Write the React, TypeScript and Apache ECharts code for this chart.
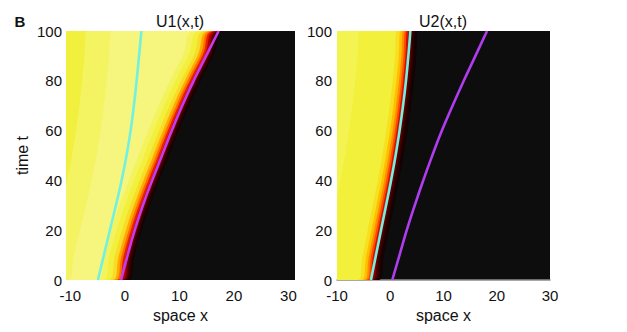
import React, { useEffect, useRef } from "react";
import * as echarts from "echarts";

// time samples (t) and front positions x(t)
const tVals = [0, 10, 20, 30, 40, 50, 60, 70, 80, 90, 100];
const u1Magenta = [-0.7, 0.5, 1.8, 3.3, 5.0, 6.8, 8.6, 10.5, 12.6, 14.9, 17.2];
const u1Cyan = [-4.95, -3.85, -2.75, -1.65, -0.6, 0.3, 1.05, 1.65, 2.15, 2.6, 3.03];
const u2Cyan = [-3.62, -2.68, -1.74, -0.78, 0.15, 1.0, 1.75, 2.4, 2.95, 3.4, 3.77];
const u2Magenta = [0.38, 1.74, 3.1, 4.6, 6.2, 7.9, 9.7, 11.7, 13.8, 16.0, 18.17];

const xTicks = [-10, 0, 10, 20, 30];
const tTicks = [0, 20, 40, 60, 80, 100];

// colour bands: offset (in x units) from a reference curve, colour of the level
const u1FrontOffsets = [1.3, 0.9, 0.5, 0.15, -0.3, -0.7, -1.1, -1.6, -2.3, -3.3, -4.3];
const u1FrontColors = ["#180202", "#360000", "#6a0000", "#b00000", "#e82000", "#ff6a00", "#ffaa00", "#f8dc28", "#f2f03c", "#f4f35e", "#f6f57e"];
const u1CyanOffsets = [-5.5, -10.0];
const u1CyanColors = ["#f4f362", "#f1f03e"];

const u2FrontOffsets = [1.5, 1.0, 0.6, 0.25, -0.2, -0.55, -0.9, -1.3, -1.8, -2.5, -9.5];
const u2FrontColors = ["#150202", "#2e0000", "#560000", "#900000", "#d81000", "#ff4a00", "#ff8c00", "#ffbe00", "#f7e020", "#f2f03a", "#f3f352"];

const BG = "#0d0d0d";
const FONT = "Liberation Sans, Arial, sans-serif";

function bandSeries(curve: number[], offsets: number[], colors: string[], idx: number, xmin: number, xmax: number) {
  return offsets.map((off, k) => ({
    type: "line",
    xAxisIndex: idx,
    yAxisIndex: idx,
    silent: true,
    symbol: "none",
    smooth: 0.5,
    lineStyle: { width: 0, opacity: 0 },
    areaStyle: { color: colors[k], opacity: 1, origin: "end" },
    data: [[xmin - 2, tVals[0]], ...curve.map((x, i) => [x + off, tVals[i]]), [xmax + 2, tVals[tVals.length - 1]]],
    z: 2,
  }));
}

function lineSeries(curve: number[], color: string, idx: number) {
  return {
    type: "line",
    xAxisIndex: idx,
    yAxisIndex: idx,
    silent: true,
    symbol: "none",
    smooth: 0.5,
    lineStyle: { width: 2.6, color },
    data: curve.map((x, i) => [x, tVals[i]]),
    z: 5,
  };
}

const tickFmt = (v: number) => (xTicks.some((t) => Math.abs(t - v) < 1e-6) ? String(v) : "");
const tFmt = (v: number) => (tTicks.some((t) => Math.abs(t - v) < 1e-6) ? String(v) : "");

export default function App() {
  const ref = useRef<HTMLDivElement>(null);
  useEffect(() => {
    if (!ref.current) return;
    const chart = echarts.init(ref.current, undefined, { renderer: "svg" });
    const L = { xmin: -10.8, xmax: 31.2 };
    const R = { xmin: -10, xmax: 30 };
    const axisLabel = { fontSize: 15, color: "#111", fontFamily: FONT };
    const nameStyle = { fontSize: 16, color: "#111", fontFamily: FONT };
    chart.setOption({
      animation: false,
      textStyle: { fontFamily: FONT },
      grid: [
        { left: 66, top: 31, width: 229, height: 249, show: true, backgroundColor: BG, borderWidth: 0 },
        { left: 337, top: 31, width: 213, height: 249, show: true, backgroundColor: BG, borderWidth: 0 },
      ],
      xAxis: [
        {
          type: "value", gridIndex: 0, min: L.xmin, max: L.xmax,
          axisLine: { show: false }, axisTick: { show: false }, splitLine: { show: false },
          axisLabel: { ...axisLabel, margin: 8, formatter: tickFmt },
          name: "space x", nameLocation: "middle", nameGap: 20, nameTextStyle: nameStyle,
        },
        {
          type: "value", gridIndex: 1, min: R.xmin, max: R.xmax, interval: 10,
          axisLine: { show: true, lineStyle: { color: "#8c8c8c", width: 1.5 } }, axisTick: { show: false }, splitLine: { show: false },
          axisLabel: { ...axisLabel, margin: 8, formatter: tickFmt },
          name: "space x", nameLocation: "middle", nameGap: 20, nameTextStyle: nameStyle,
        },
      ],
      yAxis: [
        {
          type: "value", gridIndex: 0, min: 0, max: 100, interval: 20,
          axisLine: { show: false }, axisTick: { show: false }, splitLine: { show: false },
          axisLabel: { ...axisLabel, margin: 4, formatter: tFmt },
          name: "time t", nameLocation: "middle", nameGap: 36, nameRotate: 90, nameTextStyle: nameStyle,
        },
        {
          type: "value", gridIndex: 1, min: 0, max: 100, interval: 20,
          axisLine: { show: false }, axisTick: { show: false }, splitLine: { show: false },
          axisLabel: { ...axisLabel, margin: 5, formatter: tFmt },
        },
      ],
      graphic: [
        { type: "text", x: 20, y: 21, style: { text: "B", fontSize: 15, fontWeight: "bold", fontFamily: FONT, fill: "#111", align: "center", verticalAlign: "middle" } },
        { type: "text", x: 180, y: 21, style: { text: "U1(x,t)", fontSize: 16, fontFamily: FONT, fill: "#111", align: "center", verticalAlign: "middle" } },
        { type: "text", x: 443, y: 21, style: { text: "U2(x,t)", fontSize: 16, fontFamily: FONT, fill: "#111", align: "center", verticalAlign: "middle" } },
      ],
      series: [
        ...bandSeries(u1Magenta, u1FrontOffsets, u1FrontColors, 0, L.xmin, L.xmax),
        ...bandSeries(u1Cyan, u1CyanOffsets, u1CyanColors, 0, L.xmin, L.xmax),
        lineSeries(u1Cyan, "#72f0e2", 0),
        lineSeries(u1Magenta, "#c43cf0", 0),
        ...bandSeries(u2Cyan, u2FrontOffsets, u2FrontColors, 1, R.xmin, R.xmax),
        lineSeries(u2Cyan, "#72f0e2", 1),
        lineSeries(u2Magenta, "#b03cf0", 1),
      ],
    });
    return () => chart.dispose();
  }, []);
  return <div ref={ref} style={{ width: 627, height: 332, position: "absolute", left: 0, top: 0 }} />;
}
